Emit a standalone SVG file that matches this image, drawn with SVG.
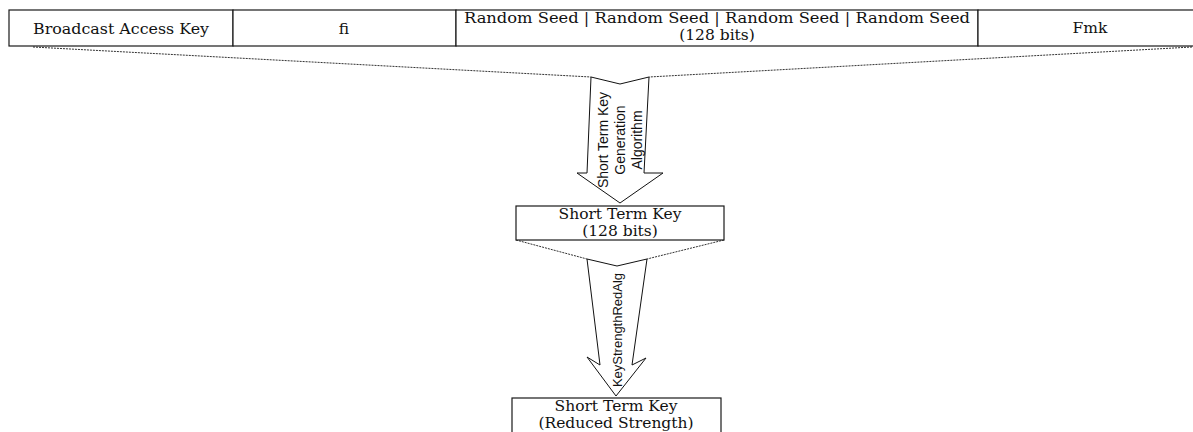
<svg xmlns="http://www.w3.org/2000/svg" width="1193" height="432" viewBox="0 0 1193 432">
  <style>
    .cell { fill: #ffffff; stroke: #1a1a1a; stroke-width: 1.2; }
    .serif { font-family: "DejaVu Serif", "Liberation Serif", serif; font-size: 15.5px; fill: #111; text-anchor: middle; }
    .sans { font-family: "Liberation Sans", Arial, sans-serif; font-size: 13px; fill: #111; text-anchor: middle; dominant-baseline: central; }
    .sans.big { font-size: 14px; }
    .dots { fill: none; stroke: #333; stroke-width: 1; stroke-dasharray: 2 1; }
    .block { fill: #ffffff; stroke: #111; stroke-width: 1; stroke-linejoin: miter; }
  </style>
  <rect width="1193" height="432" fill="#ffffff"/>

  <!-- Dotted spread lines -->
  <g id="connectors">
    <path class="dots" d="M33 47 L591 77"/>
    <path class="dots" d="M1192 47 L649 77"/>
    <path class="dots" d="M516 240 L587 259"/>
    <path class="dots" d="M724 240 L647 259"/>
  </g>

  <!-- Input field row -->
  <g id="bak">
    <rect class="cell" x="9" y="10" width="224" height="36"/>
    <text class="serif" x="121" y="34" textLength="176" lengthAdjust="spacingAndGlyphs">Broadcast Access Key</text>
  </g>
  <g id="fi">
    <rect class="cell" x="233" y="10" width="223" height="36"/>
    <text class="serif" x="344" y="34">fi</text>
  </g>
  <g id="seed">
    <rect class="cell" x="456" y="10" width="522" height="36"/>
    <text class="serif" x="717" y="23" textLength="506" lengthAdjust="spacingAndGlyphs">Random Seed | Random Seed | Random Seed | Random Seed</text>
    <text class="serif" x="717" y="40">(128 bits)</text>
  </g>
  <g id="fmk">
    <rect class="cell" x="978" y="10" width="220" height="36"/>
    <text class="serif" x="1090" y="33">Fmk</text>
  </g>

  <!-- Generation arrow -->
  <g id="gen-arrow">
    <polygon class="block" points="591,77 620,84 649,77 644,173 663,173 620,203 577,173 587,173"/>
    <g transform="translate(620,140) rotate(-90)">
      <text class="sans big" x="0" y="-17">Short Term Key</text>
      <text class="sans big" x="0" y="0">Generation</text>
      <text class="sans big" x="0" y="17">Algorithm</text>
    </g>
  </g>

  <!-- Short term key -->
  <g id="stk">
    <rect class="cell" x="516" y="206" width="208" height="34"/>
    <text class="serif" x="620" y="219">Short Term Key</text>
    <text class="serif" x="620" y="236">(128 bits)</text>
  </g>

  <!-- Strength reduction arrow -->
  <g id="red-arrow">
    <polygon class="block" points="587,259 617,266 647,259 632,365 646,358 616,396 587,357 600,365"/>
    <text class="sans" transform="translate(617,330) rotate(-90)" x="0" y="0">KeyStrengthRedAlg</text>
  </g>

  <!-- Reduced strength key -->
  <g id="stk-reduced">
    <rect class="cell" x="512" y="398" width="209" height="40"/>
    <text class="serif" x="616" y="411">Short Term Key</text>
    <text class="serif" x="616" y="428">(Reduced Strength)</text>
  </g>
</svg>
